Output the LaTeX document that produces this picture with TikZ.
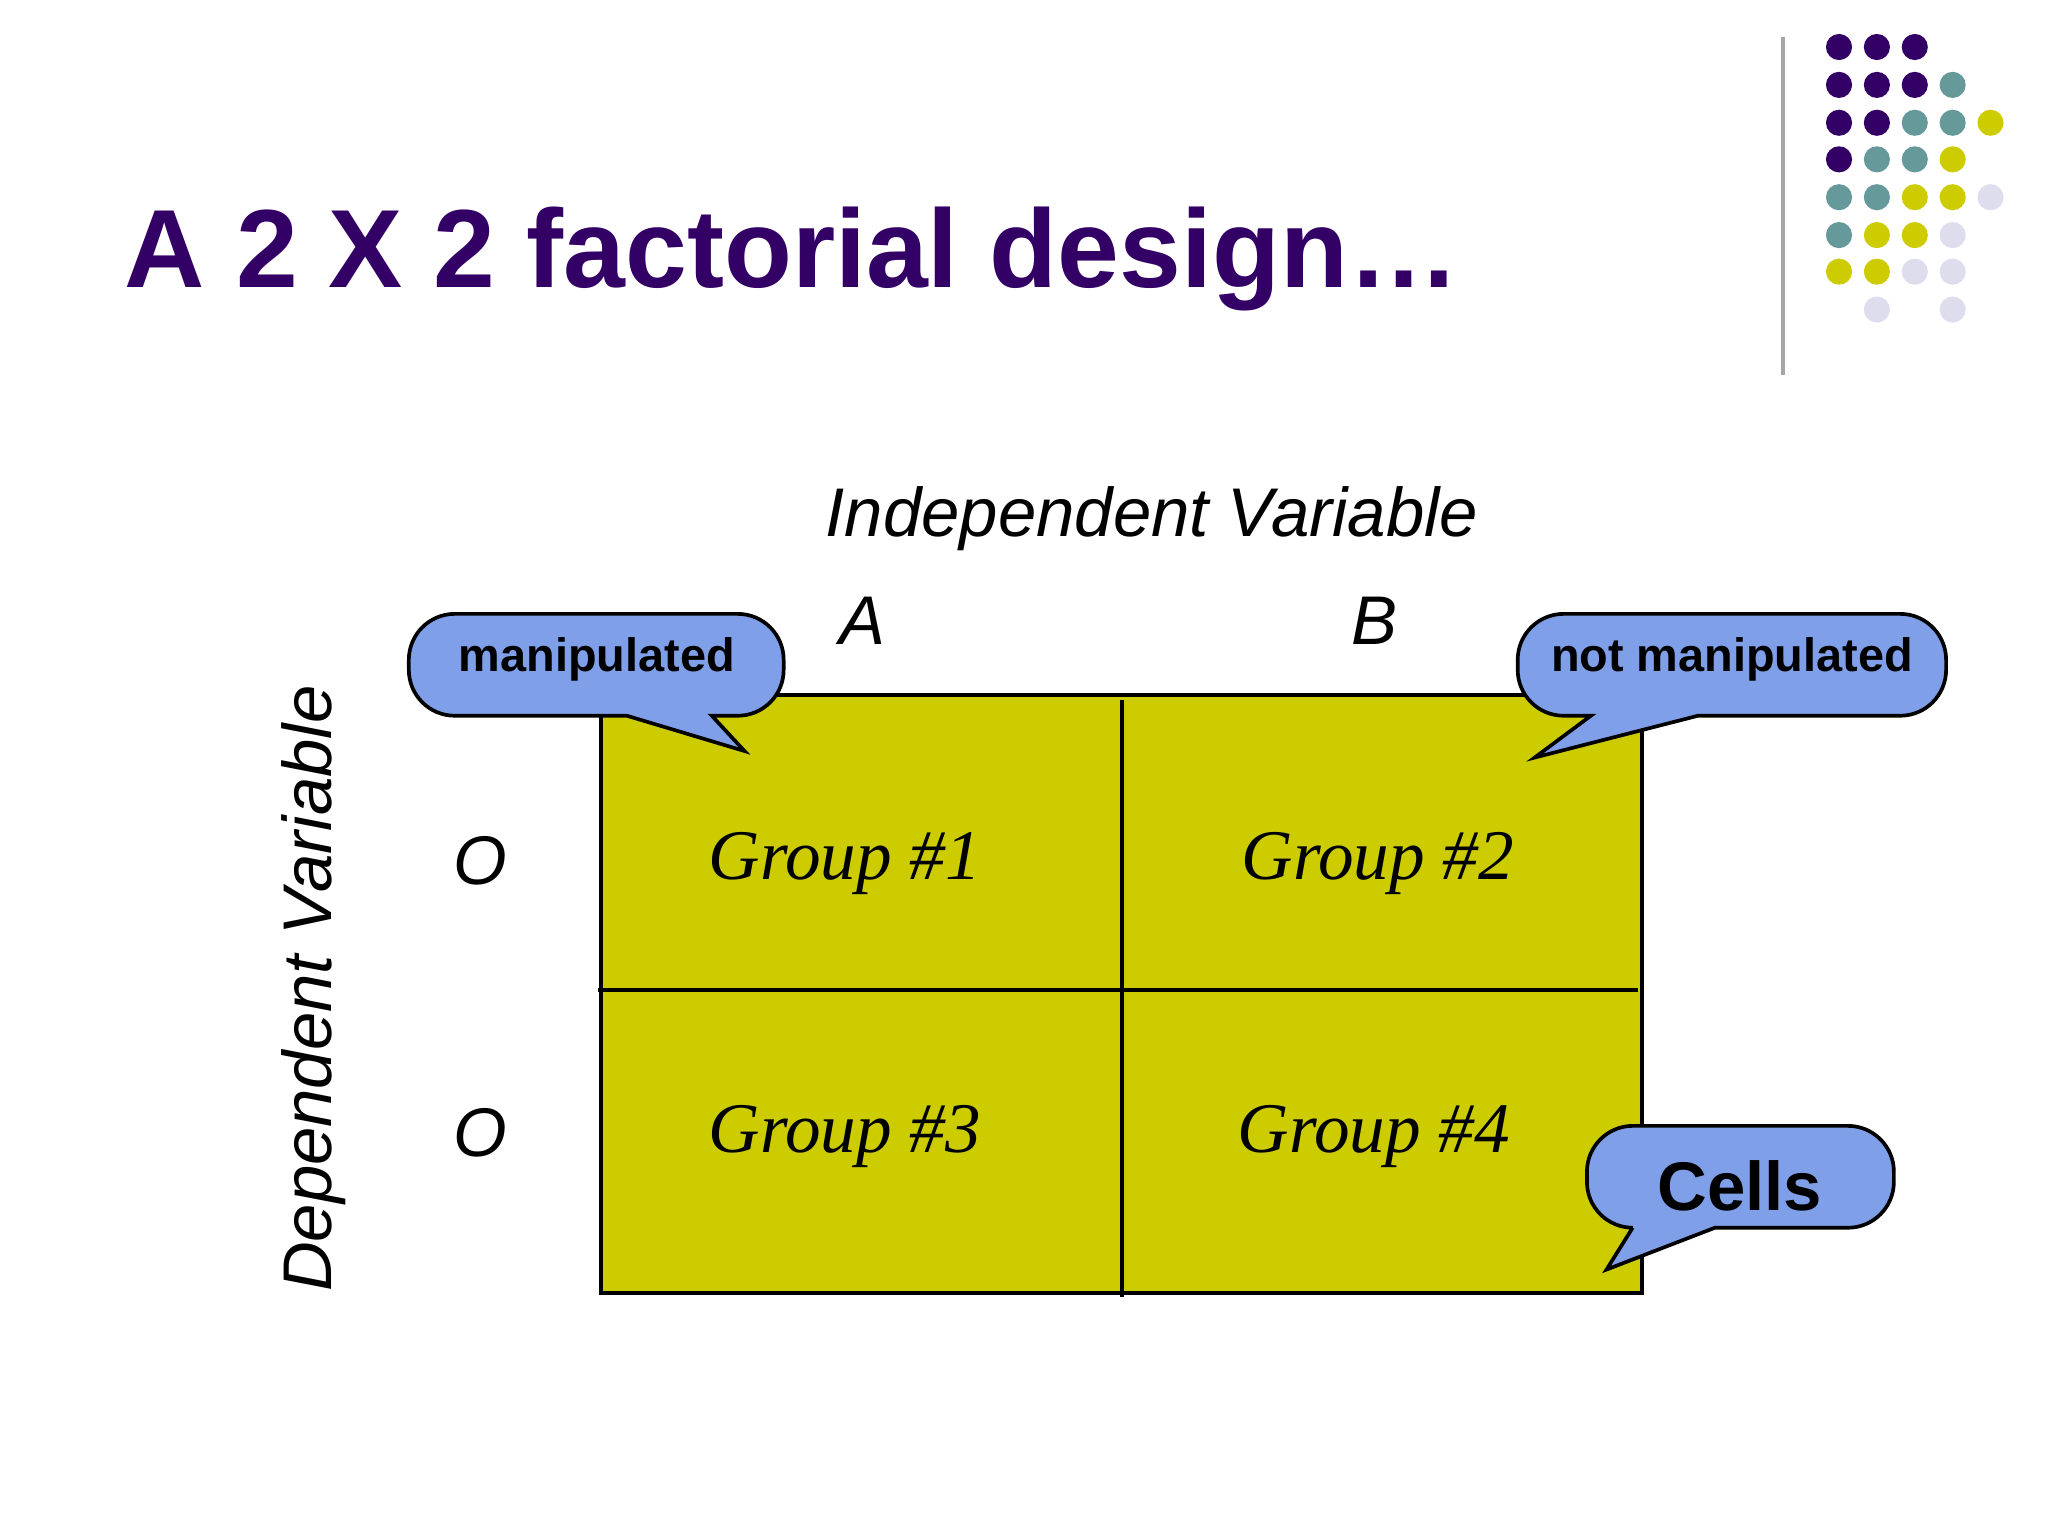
\documentclass[tikz,border=0pt]{standalone}
\usepackage{fontspec}
\setmainfont{Liberation Serif}
\setsansfont{Liberation Sans}
\begin{document}
\begin{tikzpicture}[x=0.01cm,y=-0.01cm,
  dot/.style={circle,inner sep=0pt,minimum size=0.2cm},
  callout/.style={draw=black,fill=cblue,line width=0.8pt},
  grp/.style={font=\fontsize{15.5pt}{15.5pt}\selectfont\itshape},
  lab/.style={font=\sffamily\itshape\fontsize{15pt}{15pt}\selectfont}]
\definecolor{tpurple}{HTML}{330066}
\definecolor{cteal}{HTML}{669999}
\definecolor{cyel}{HTML}{CCCC00}
\definecolor{clav}{HTML}{DDDDEE}
\definecolor{cblue}{HTML}{7F9FE8}
\useasboundingbox (0,0) rectangle (1568,1176);
\node[anchor=base west,inner sep=0pt,text=tpurple,font=\sffamily\bfseries\fontsize{24.2pt}{24.2pt}\selectfont] (title) at (95,220) {A 2 X 2 factorial design\ldots};
\draw[gray!70,line width=0.8pt] (1365,28) -- (1365,287);
% dots
\foreach \c/\x/\y in {tpurple/1408/36,tpurple/1437/36,tpurple/1466/36,
 tpurple/1408/65,tpurple/1437/65,tpurple/1466/65,cteal/1495/65,
 tpurple/1408/94,tpurple/1437/94,cteal/1466/94,cteal/1495/94,cyel/1524/94,
 tpurple/1408/122,cteal/1437/122,cteal/1466/122,cyel/1495/122,
 cteal/1408/151,cteal/1437/151,cyel/1466/151,cyel/1495/151,clav/1524/151,
 cteal/1408/180,cyel/1437/180,cyel/1466/180,clav/1495/180,
 cyel/1408/208,cyel/1437/208,clav/1466/208,clav/1495/208,
 clav/1437/237,clav/1495/237}
 \node[dot,fill=\c] at (\x,\y) {};
% grid
\draw[fill=cyel,line width=0.8pt] (460,532) rectangle (1257,990);
\draw[line width=0.8pt] (859,536) -- (859,993);
\draw[line width=0.8pt] (458,758) -- (1254,758);
\node[lab] (iv) at (882,397) {Independent Variable};
\node[lab] (a) at (660,475) {A};
\node[lab] (b) at (1052,475) {B};
\node[lab] (o1) at (368,659) {O};
\node[lab] (o2) at (368,867) {O};
\node[lab,rotate=90] (dv) at (240,757) {Dependent Variable};
\node[grp] (g1) at (647,661) {Group \#1};
\node[grp] (g2) at (1055,661) {Group \#2};
\node[grp] (g3) at (647,870) {Group \#3};
\node[grp] (g4) at (1052,870) {Group \#4};
% callouts
\draw[callout] (480,548) [rounded corners=10pt] -- (313,548) -- (313,470) -- (600,470) -- (600,548) [sharp corners] -- (545,548) -- (570,575) -- cycle;
\node[font=\sffamily\bfseries\fontsize{10.2pt}{10.2pt}\selectfont] (m) at (457,505) {manipulated};
\draw[callout] (1218,548) [rounded corners=10pt] -- (1162,548) -- (1162,470) -- (1490,470) -- (1490,548) [sharp corners] -- (1300,548) -- (1175,580) -- cycle;
\node[font=\sffamily\bfseries\fontsize{10.2pt}{10.2pt}\selectfont] (nm) at (1326,505) {not manipulated};
\draw[callout] (1250,940) [rounded corners=10pt] -- (1215,940) -- (1215,862) -- (1450,862) -- (1450,940) [sharp corners] -- (1313,940) -- (1230,972) -- cycle;
\node[font=\sffamily\bfseries\fontsize{15pt}{15pt}\selectfont] (cells) at (1332,908) {Cells};
\end{tikzpicture}
\end{document}
